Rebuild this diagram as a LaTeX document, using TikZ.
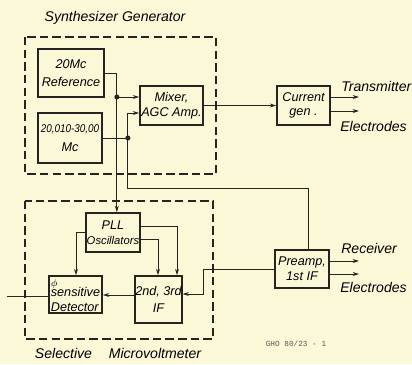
\documentclass[tikz,border=0pt]{standalone}
\usepackage{fontspec}
\setmainfont{Liberation Sans}
\setmonofont{Liberation Mono}
\usepackage{tikz}
\usetikzlibrary{arrows.meta, positioning, calc}
\definecolor{paper}{RGB}{251,248,216}
\definecolor{ink}{RGB}{38,36,32}
\definecolor{stamp}{RGB}{90,88,80}

\begin{document}
\begin{tikzpicture}[x=0.025cm, y=-0.025cm, font=\itshape,
    blk/.style={draw=ink, line width=1.2pt, inner sep=0pt, align=center,
      font=\itshape\fontsize{9}{10.5}\selectfont},
    wire/.style={draw=ink, line width=0.6pt},
    tip/.style={-{Stealth[length=4.5pt, width=2.8pt]}},
    frame/.style={draw=ink, line width=0.8pt, dash pattern=on 6pt off 3pt},
    lbl/.style={anchor=west, inner sep=0pt, font=\itshape\fontsize{10}{12}\selectfont},
    dot/.style={fill=ink}]
  \fill[paper] (0,0) rectangle (412,364);
  \useasboundingbox (0,0) rectangle (412,364);

  % dashed groups
  \draw[frame] (25,37) rectangle (216,174);
  \draw[frame] (25,201) rectangle (213,339);
  \node (tsyn) at (115,18) {\fontsize{10}{12}\selectfont Synthesizer Generator};
  \node (tsel) at (118,353) {\fontsize{10}{12}\selectfont Selective\hspace{1.2em}Microvoltmeter};

  % blocks
  \node[blk, minimum width=1.65cm, minimum height=1.2cm] (ref) at (71,73) {20Mc\\[2pt]Reference};
  \node[blk, minimum width=1.6cm, minimum height=1.25cm] (osc) at (70,138)
    {\fontsize{8}{10}\selectfont\scalebox{0.88}[1]{20,010-30,00}\\[3pt]Mc};
  \node[blk, minimum width=1.575cm, minimum height=0.975cm] (mix) at (171.5,105.5) {Mixer,\\AGC Amp.};
  \node[blk, minimum width=1.325cm, minimum height=0.975cm] (cur) at (303.5,105.5) {Current\\gen .};
  \node[blk, minimum width=1.35cm, minimum height=0.975cm] (pll) at (113,232.5) {PLL\\\fontsize{8}{10}\selectfont Oscillators};
  \node[blk, minimum width=1.325cm, minimum height=0.925cm, align=left] (det) at (75.5,294.5)
    {\fontsize{8}{9}\selectfont\raisebox{0pt}[6pt][0pt]{\scriptsize$\phi$}\\[-3pt]sensitive\\Detector};
  \node[blk, minimum width=0.975cm, minimum height=1.175cm] (ifa) at (158.5,299.5) {2nd, 3rd\\[2pt]IF};
  \node[blk, minimum width=1.35cm, minimum height=0.95cm] (pre) at (302,269) {Preamp,\\1st IF};

  % synthesizer wiring
  \draw[wire, tip] (ref.east) -- ++(12,0) coordinate (jr) -- (jr |- pll.north);
  \coordinate (dr) at (jr |- 0,97);
  \fill[dot] (dr) circle (1.8pt);
  \draw[wire, tip] (dr) -- (dr -| mix.west);
  \draw[wire] (osc.east) -- ++(25,0) coordinate (jo);
  \fill[dot] (jo) circle (1.8pt);
  \draw[wire, tip] (jo) -- (jo |- 0,113) -- (mix.west |- 0,113);
  \draw[wire] (jo) -- (jo |- 0,188) -- (308,188) -- (308,0 |- pre.north);
  \draw[wire, tip] (mix.east) -- (cur.west);

  % outputs
  \draw[wire, tip] (cur.east |- 0,97) -- (359,97);
  \draw[wire, tip] (cur.east |- 0,111) -- (359,111);
  \node[lbl] (ttx) at (341,86) {Transmitter};
  \node[lbl] (tel1) at (340,126) {Electrodes};
  \draw[wire, tip] (pre.east |- 0,261) -- (359,261);
  \draw[wire, tip] (pre.east |- 0,274) -- (359,274);
  \node[lbl] (trx) at (341,248) {Receiver};
  \node[lbl] (tel2) at (340,287) {Electrodes};

  % microvoltmeter wiring
  \draw[wire, tip] (pll.west |- 0,232) -- (76,232) -- (76,0 |- det.north);
  \draw[wire, tip] (pll.east |- 0,226) -- (177,226) -- (177,0 |- ifa.north);
  \draw[wire, tip] (pll.east |- 0,239) -- (158,239) -- (158,0 |- ifa.north);
  \draw[wire, tip] (pre.west) -- (203,269) -- (203,294) -- (ifa.east |- 0,294);
  \draw[wire, tip] (ifa.west |- 0,295) -- (det.east |- 0,295);
  \draw[wire] (det.west |- 0,296) -- (7,296);

  \node[text=stamp, font=\ttfamily\fontsize{5.5}{6}\selectfont] (tag) at (296,344) {GHO 80/23 - 1};
\end{tikzpicture}
\end{document}
